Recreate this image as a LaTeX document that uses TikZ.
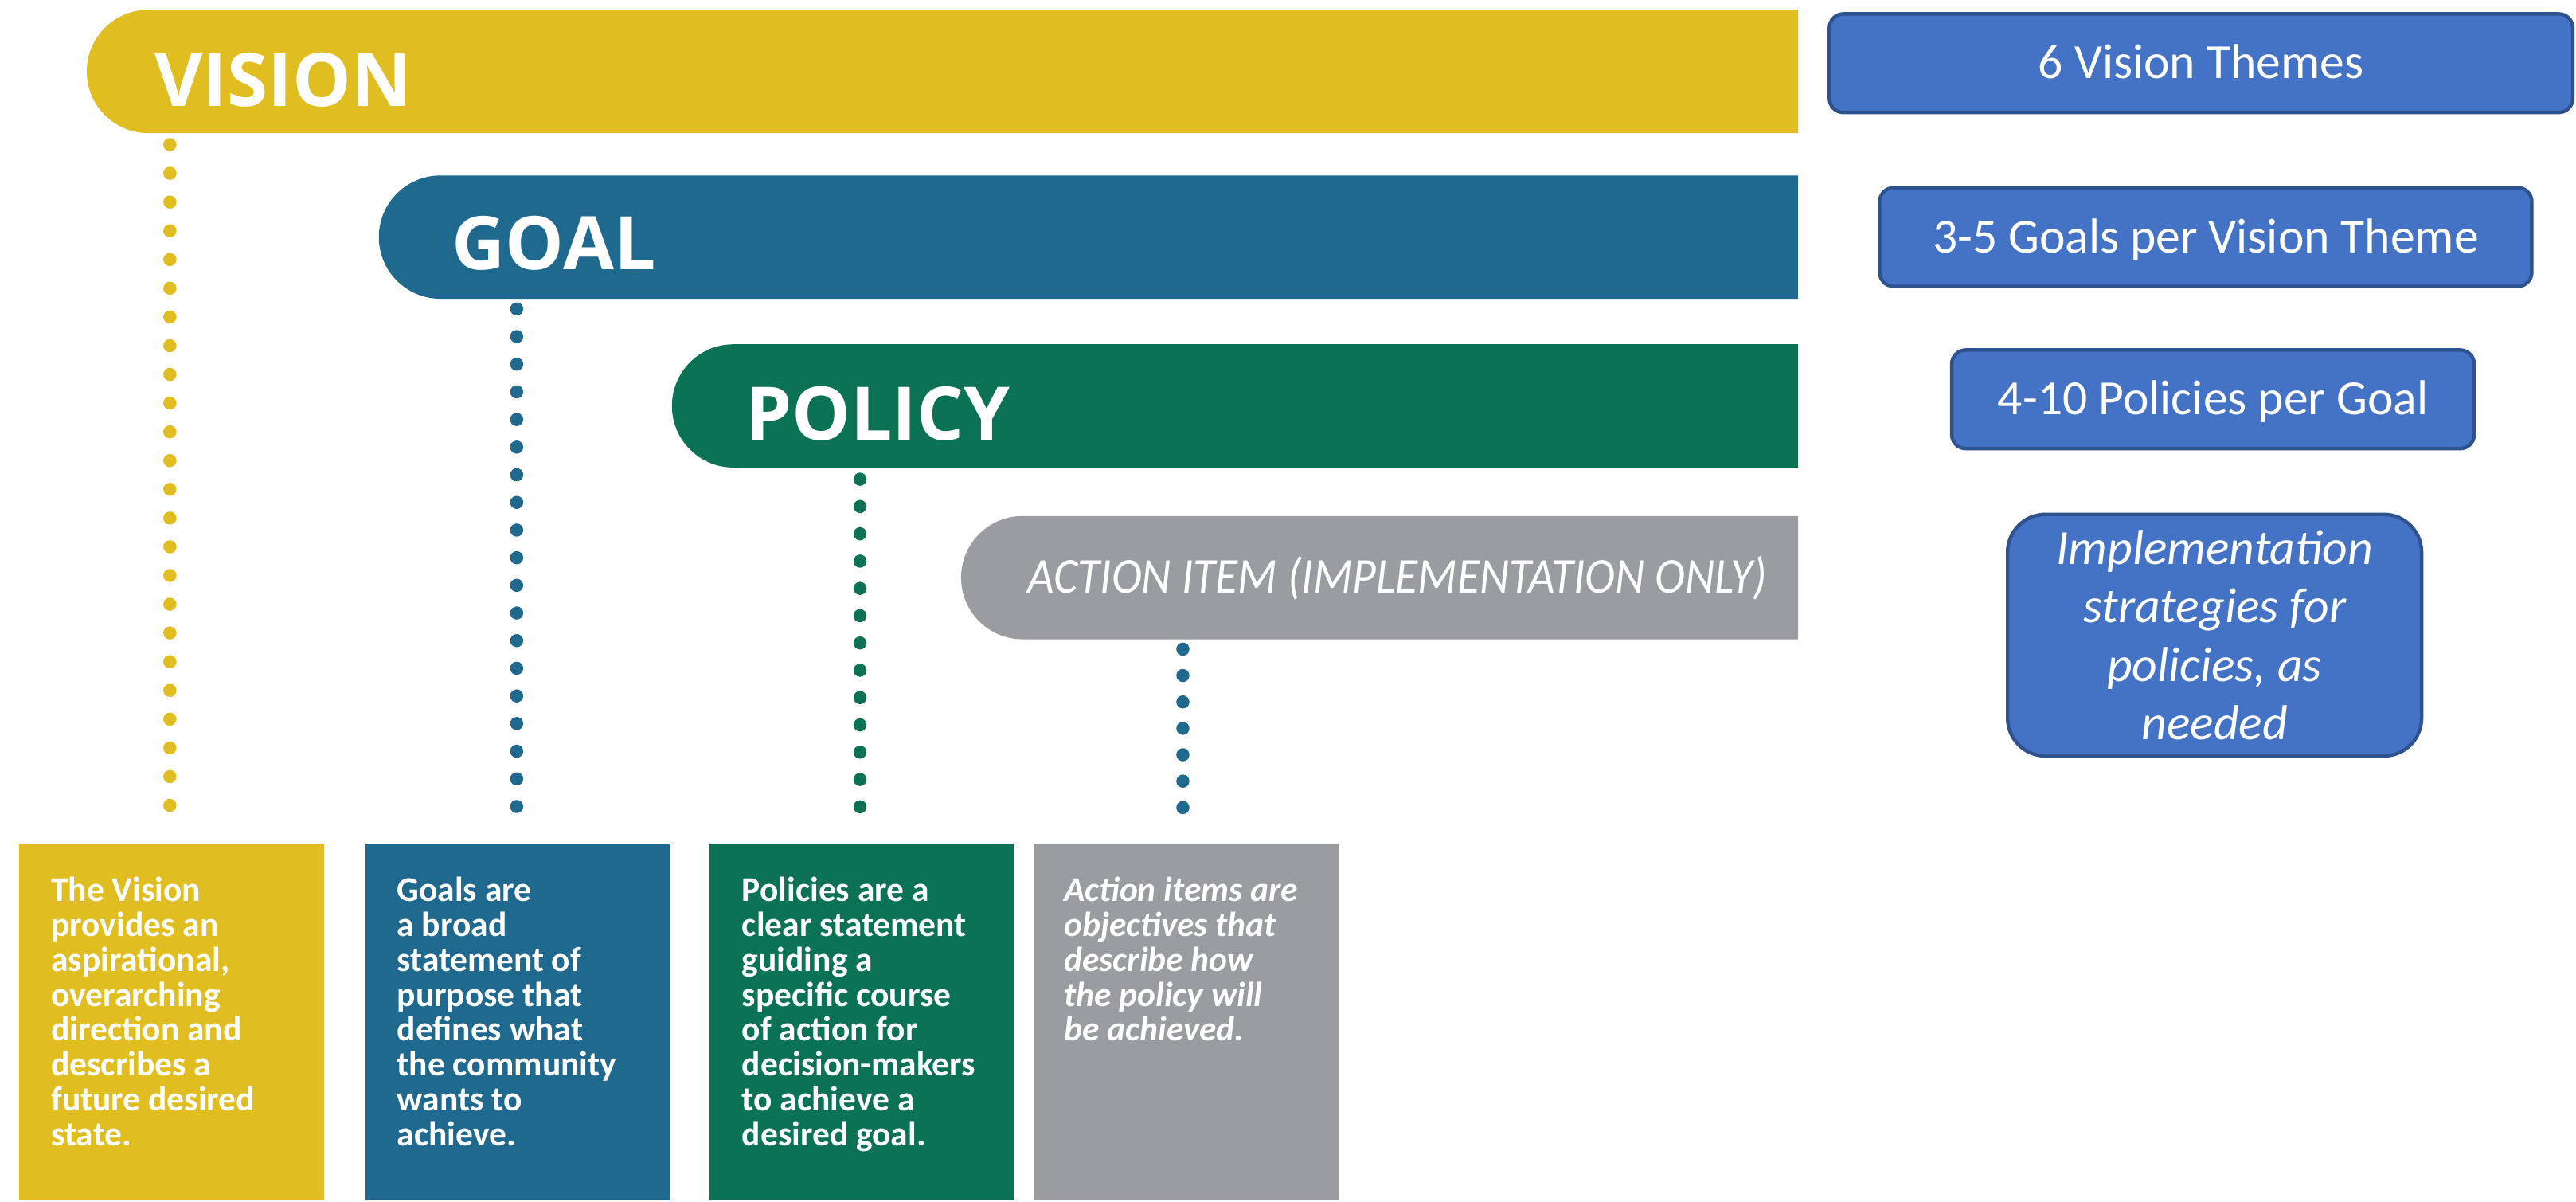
\documentclass[tikz,border=0pt]{standalone}
\usepackage{fontspec}
\setmainfont{Carlito}
\newfontfamily\headfont{Open Sans}
\newfontfamily\narrowfont{Carlito}[FakeStretch=0.915]
\usepackage{xcolor}
\definecolor{visyellow}{RGB}{224,190,34}
\definecolor{goalblue}{RGB}{32,105,142}
\definecolor{policygreen}{RGB}{11,115,84}
\definecolor{actiongray}{RGB}{155,156,159}
\definecolor{boxblue}{RGB}{68,114,196}
\definecolor{boxedge}{RGB}{47,82,143}

\tikzset{
  headtext/.style={text=white, inner sep=0pt, font=\headfont\bfseries\fontsize{12.8}{15}\selectfont},
  actiontext/.style={text=white, inner sep=0pt, font=\narrowfont\itshape\fontsize{8.7}{10}\selectfont},
  descbox/.style={rectangle, inner sep=0pt, minimum width=1.855cm, minimum height=2.172cm, anchor=south west},
  desctext/.style={text=white, inner sep=0pt, align=left, anchor=base west, font=\bfseries\fontsize{6}{6.06}\selectfont},
  dotline/.style={line width=0.08cm, line cap=round, dash pattern=on 0pt off #1, shorten >=0.06cm},
  sidebox/.style={rectangle, rounded corners=0.085cm, draw=boxedge, line width=0.6pt, fill=boxblue,
    text=white, inner sep=0pt, font=\fontsize{8.5}{10.1}\selectfont},
  countbox/.style={sidebox, minimum height=0.6cm, text height=5.4pt, text depth=0pt},
  notebox/.style={sidebox, rounded corners=0.23cm, minimum width=2.52cm, minimum height=1.47cm,
    align=center, font=\itshape\fontsize{8.5}{10.1}\selectfont}
}

\begin{document}
\begin{tikzpicture}

% Canvas
\useasboundingbox (0,0) rectangle (15.68,7.31);
\fill[white] (0,0) rectangle (15.68,7.31);

% Level bars (round on the left, flat on the right)
\foreach \col/\x/\y in {visyellow/0.903/6.50, goalblue/2.681/5.492, policygreen/4.465/4.465, actiongray/6.225/3.42} {
    \fill[\col] (10.945,\y) -- (\x,\y) arc (270:90:0.375) -- (10.945,\y+0.75) -- cycle;
}

% Bar titles
\node[headtext, anchor=base west] (vision) at (0.935,6.665) {VISION};
\node[headtext, anchor=base west] (goal) at (2.745,5.67) {GOAL};
\node[headtext, anchor=base west] (policy) at (4.53,4.634) {POLICY};
\node[actiontext, anchor=base west] (action) at (6.25,3.70) {ACTION ITEM (IMPLEMENTATION ONLY)};

% Description boxes
\node[descbox, fill=visyellow] (visbox) at (0.11,0) {};
\node[descbox, fill=goalblue] (goalbox) at (2.22,0) {};
\node[descbox, fill=policygreen] (policybox) at (4.31,0) {};
\node[descbox, fill=actiongray] (actionbox) at (6.285,0) {};

% text nodes sit on the baseline of their last line
\node[desctext] (vistext) at ([shift={(0.195,-1.850)}]visbox.north west)
    {The Vision\\provides an\\aspirational,\\overarching\\direction and\\describes a\\future desired\\state.};
\node[desctext] (goaltext) at ([shift={(0.19,-1.850)}]goalbox.north west)
    {Goals are\\a broad\\statement of\\purpose that\\defines what\\the community\\wants to\\achieve.};
\node[desctext] (policytext) at ([shift={(0.20,-1.850)}]policybox.north west)
    {Policies are a\\clear statement\\guiding a\\specific course\\of action for\\decision-makers\\to achieve a\\desired goal.};
\node[desctext, font=\bfseries\itshape\fontsize{6}{6.06}\selectfont] (actiontext) at ([shift={(0.185,-1.211)}]actionbox.north west)
    {Action items are\\objectives that\\describe how\\the policy will\\be achieved.};

% Dotted leaders from bars down to boxes
\coordinate (visfoot) at (1.034,6.43);
\coordinate (goalfoot) at (3.145,5.43);
\coordinate (policyfoot) at (5.235,4.394);
\coordinate (actionfoot) at (7.20,3.36);

\draw[dotline=0.1748cm, visyellow] (visfoot) -- (visfoot |- visbox.north);
\draw[dotline=0.1682cm, goalblue] (goalfoot) -- (goalfoot |- goalbox.north);
\draw[dotline=0.1661cm, policygreen] (policyfoot) -- (policyfoot |- policybox.north);
\draw[dotline=0.1607cm, goalblue] (actionfoot) -- (actionfoot |- actionbox.north);

% Counts per level
\node[countbox, minimum width=4.525cm] (themes) at (13.3975,6.9255) {6 Vision Themes};
\node[countbox, minimum width=3.97cm] (goals) at (13.426,5.8675) {3-5 Goals per Vision Theme};
\node[countbox, minimum width=3.18cm] (policies) at (13.47,4.88) {4-10 Policies per Goal};
\node[notebox] (strategies) at (13.48,3.445) {Implementation\\strategies for\\policies, as\\needed};

\end{tikzpicture}
\end{document}
